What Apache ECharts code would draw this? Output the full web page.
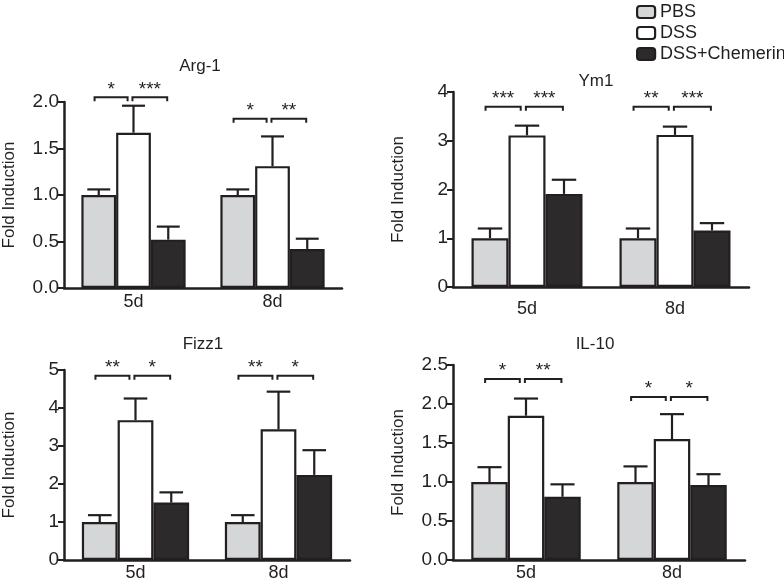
<!DOCTYPE html>
<html><head><meta charset="utf-8">
<script src="https://cdn.jsdelivr.net/npm/echarts@6/dist/echarts.min.js"></script>
<style>html,body{margin:0;padding:0;background:#fff}#c{width:784px;height:588px}</style>
</head><body><div id="c"></div>
<script>
// ---- data ----
const categories = ['5d', '8d'];
const groups = ['PBS', 'DSS', 'DSS+Chemerin'];
const panelTitles = ['Arg-1', 'Ym1', 'Fizz1', 'IL-10'];
const yAxisName = 'Fold Induction';

const arg1PBS = [1.00, 1.00], arg1DSS = [1.67, 1.31], arg1Chem = [0.52, 0.42];
const arg1PBSErr = [0.06, 0.06], arg1DSSErr = [0.29, 0.32], arg1ChemErr = [0.14, 0.11];
const arg1Sig = ['*', '***', '*', '**'];
const arg1SigLevel = [2.05, 1.82];

const ym1PBS = [1.00, 1.00], ym1DSS = [3.11, 3.12], ym1Chem = [1.91, 1.16];
const ym1PBSErr = [0.20, 0.20], ym1DSSErr = [0.20, 0.17], ym1ChemErr = [0.29, 0.15];
const ym1Sig = ['***', '***', '**', '***'];
const ym1SigLevel = [3.70, 3.70];

const fizz1PBS = [1.00, 1.00], fizz1DSS = [3.68, 3.44], fizz1Chem = [1.51, 2.24];
const fizz1PBSErr = [0.18, 0.18], fizz1DSSErr = [0.57, 0.99], fizz1ChemErr = [0.27, 0.65];
const fizz1Sig = ['**', '*', '**', '*'];
const fizz1SigLevel = [4.85, 4.85];

const il10PBS = [1.00, 1.00], il10DSS = [1.85, 1.55], il10Chem = [0.81, 0.96];
const il10PBSErr = [0.19, 0.20], il10DSSErr = [0.22, 0.32], il10ChemErr = [0.16, 0.14];
const il10Sig = ['*', '**', '*', '*'];
const il10SigLevel = [2.32, 2.09];

const yMaxes = [2, 4, 5, 2.5];
const yIntervals = [0.5, 1, 1, 0.5];
const yDecimals = [1, 0, 0, 1];

// ---- assemble ----
const panels = [
  {means: [arg1PBS, arg1DSS, arg1Chem], errs: [arg1PBSErr, arg1DSSErr, arg1ChemErr], sig: arg1Sig, lv: arg1SigLevel},
  {means: [ym1PBS, ym1DSS, ym1Chem], errs: [ym1PBSErr, ym1DSSErr, ym1ChemErr], sig: ym1Sig, lv: ym1SigLevel},
  {means: [fizz1PBS, fizz1DSS, fizz1Chem], errs: [fizz1PBSErr, fizz1DSSErr, fizz1ChemErr], sig: fizz1Sig, lv: fizz1SigLevel},
  {means: [il10PBS, il10DSS, il10Chem], errs: [il10PBSErr, il10DSSErr, il10ChemErr], sig: il10Sig, lv: il10SigLevel}
];

const FONT = '"Liberation Sans", Arial, Helvetica, sans-serif';
const INK = '#231f20';
const fills = ['#d5d6d8', '#ffffff', '#2d2a2b'];
const GAP = 0.25;

const gridBoxes = [
  {left: 63, top: 102, width: 279, height: 186},
  {left: 453, top: 92, width: 296, height: 195},
  {left: 63, top: 370, width: 287, height: 190},
  {left: 453, top: 365, width: 292, height: 195}
];
const xLabelMargins = [5, 13, 4, 4];
const titlePos = [[200, 66], [596, 81], [203, 344], [595, 344]];

function errRender(params, api) {
  const ci = api.value(0), m = api.value(1), e = api.value(2), s = api.value(3);
  const base = api.coord([ci, m]);
  const top = api.coord([ci, m + e]);
  const band = api.size([1, 0])[0];
  const w = band * (1 - GAP) / 3;
  const x = base[0] + (s - 1) * w;
  const cap = w * 0.66;
  return {type: 'group', children: [
    {type: 'line', shape: {x1: x, y1: base[1], x2: x, y2: top[1]}, style: {stroke: INK, lineWidth: 2.2}},
    {type: 'line', shape: {x1: x - cap / 2, y1: top[1], x2: x + cap / 2, y2: top[1]}, style: {stroke: INK, lineWidth: 2.2}}
  ]};
}

function bracketRender(sig) {
  return function (params, api) {
    const ci = api.value(0), lv = api.value(1), side = api.value(2);
    const c = api.coord([ci, lv]);
    const band = api.size([1, 0])[0];
    const w = band * (1 - GAP) / 3;
    let x1, x2;
    if (side === 0) { x1 = c[0] - w - 0.12 * w; x2 = c[0] - 0.17 * w; }
    else { x1 = c[0] - 0.03 * w; x2 = c[0] + w - 0.03 * w; }
    const y = c[1], tk = 4;
    return {type: 'group', children: [
      {type: 'polyline', shape: {points: [[x1, y + tk], [x1, y], [x2, y], [x2, y + tk]]},
        style: {stroke: INK, lineWidth: 2, fill: 'none'}},
      {type: 'text', x: (x1 + x2) / 2, y: y - 8,
        style: {text: sig[params.dataIndex], align: 'center', verticalAlign: 'middle',
          fontSize: 19, fontFamily: FONT, fill: INK}}
    ]};
  };
}

const grid = [], xAxis = [], yAxis = [], series = [], graphic = [];
panels.forEach((p, pi) => {
  grid.push(Object.assign({containLabel: false}, gridBoxes[pi]));
  xAxis.push({
    type: 'category', gridIndex: pi, data: categories,
    axisLine: {lineStyle: {color: INK, width: 2.5}},
    axisTick: {alignWithLabel: true, length: 5, lineStyle: {color: INK, width: 2}},
    axisLabel: {fontSize: 18, color: INK, fontFamily: FONT, margin: xLabelMargins[pi]},
    splitLine: {show: false}
  });
  yAxis.push({
    type: 'value', gridIndex: pi, min: 0, max: yMaxes[pi], interval: yIntervals[pi],
    axisLine: {show: true, lineStyle: {color: INK, width: 2.5}},
    axisTick: {show: true, length: 6, lineStyle: {color: INK, width: 2}},
    axisLabel: {fontSize: 19, color: INK, fontFamily: FONT, margin: 5,
      formatter: (v) => v.toFixed(yDecimals[pi])},
    splitLine: {show: false},
    name: yAxisName, nameLocation: 'middle', nameGap: 46, nameRotate: 90,
    nameTextStyle: {fontSize: 17, color: INK, fontFamily: FONT}
  });
  groups.forEach((g, s) => {
    series.push({
      type: 'bar', name: g, xAxisIndex: pi, yAxisIndex: pi,
      data: p.means[s], barGap: '0%', barCategoryGap: (GAP * 100) + '%',
      itemStyle: {color: fills[s], borderColor: INK, borderWidth: 2.2},
      emphasis: {disabled: true}, z: 2
    });
  });
  const errData = [];
  groups.forEach((g, s) => {
    categories.forEach((c, ci) => errData.push([ci, p.means[s][ci], p.errs[s][ci], s]));
  });
  series.push({type: 'custom', xAxisIndex: pi, yAxisIndex: pi, renderItem: errRender,
    data: errData, z: 3, silent: true});
  const brData = [];
  categories.forEach((c, ci) => { brData.push([ci, p.lv[ci], 0]); brData.push([ci, p.lv[ci], 1]); });
  series.push({type: 'custom', xAxisIndex: pi, yAxisIndex: pi, renderItem: bracketRender(p.sig),
    data: brData, z: 3, silent: true, clip: false});
  graphic.push({type: 'text', x: titlePos[pi][0], y: titlePos[pi][1],
    style: {text: panelTitles[pi], align: 'center', verticalAlign: 'middle',
      fontSize: 17, fontFamily: FONT, fill: INK}});
});

const chart = echarts.init(document.getElementById('c'), null, {renderer: 'canvas'});
chart.setOption({
  backgroundColor: '#ffffff',
  animation: false,
  textStyle: {fontFamily: FONT},
  legend: {
    data: groups, orient: 'vertical', left: 636, top: 3, padding: 0,
    itemWidth: 18, itemHeight: 12, itemGap: 3,
    itemStyle: {borderWidth: 2.2, borderColor: INK},
    textStyle: {fontSize: 18, color: INK, fontFamily: FONT, lineHeight: 12},
    selectedMode: false
  },
  grid, xAxis, yAxis, series, graphic
});
</script>
</body></html>
